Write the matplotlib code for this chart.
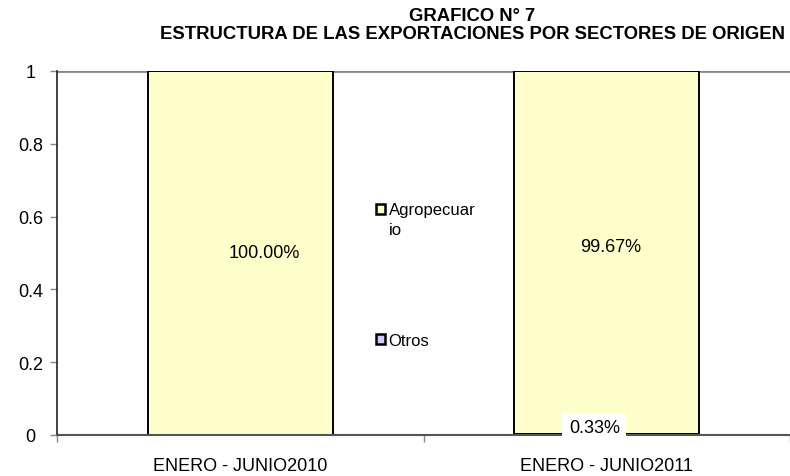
import numpy as np
import matplotlib
matplotlib.use("Agg")
import matplotlib.pyplot as plt
from matplotlib.patches import Patch, Rectangle
from matplotlib.legend_handler import HandlerPatch

plt.rcParams['font.family'] = ['Liberation Sans', 'DejaVu Sans']

periodos = ["ENERO - JUNIO2010", "ENERO - JUNIO2011"]
otros = [0.0, 0.0033]
agropecuario = [1.0, 0.9967]
etiquetas_agro = ["100.00%", "99.67%"]
etiquetas_otros = ["", "0.33%"]
yticks = [0, 0.2, 0.4, 0.6, 0.8, 1]

col_agro = "#FFFFCC"
col_otros = "#CCCCFF"

fig = plt.figure(figsize=(7.9, 4.77), dpi=100)
ax = fig.add_axes([57 / 790, 41 / 477, 733 / 790, 364 / 477])

x = np.arange(len(periodos))
w = 0.505
b1 = ax.bar(x, otros, w, color=col_otros, edgecolor="black", linewidth=1.4, zorder=2)
b2 = ax.bar(x, agropecuario, w, bottom=otros, color=col_agro, edgecolor="black",
            linewidth=1.4, zorder=2)

# data labels (excel places them a bit off-center)
offs_agro = [(17, 0), (3, 4)]
for i, r in enumerate(b2):
    yc = otros[i] + agropecuario[i] / 2
    ax.annotate(etiquetas_agro[i], (x[i], yc), xytext=offs_agro[i], textcoords="offset points",
                ha="center", va="center", fontsize=13, zorder=5)
for i, r in enumerate(b1):
    if etiquetas_otros[i]:
        ax.annotate(etiquetas_otros[i], (x[i], otros[i] / 2), xytext=(-9, 5),
                    textcoords="offset points", ha="center", va="center", fontsize=13,
                    zorder=6, bbox=dict(boxstyle="square,pad=0.35", fc="white", ec="none"))

ax.set_xlim(-0.5, 1.5)
ax.set_ylim(0, 1)
ax.set_yticks(yticks)
ax.set_yticklabels([f"{v:g}" for v in yticks], fontsize=13, ha="center")
ax.tick_params(axis="y", length=5, width=1, color="#888888", pad=14)

ax.set_xticks([-0.5, 0.5, 1.5])
ax.set_xticklabels([])
ax.tick_params(axis="x", which="major", length=5, width=1, color="#888888")
ax.set_xticks(x, minor=True)
ax.set_xticklabels(periodos, minor=True, fontsize=13)
ax.tick_params(axis="x", which="minor", length=0, pad=16)

ax.axhline(1, color="#888888", linewidth=2, zorder=1)
for s in ["top", "right"]:
    ax.spines[s].set_visible(False)
ax.spines["left"].set_color("#222222")
ax.spines["left"].set_linewidth(1.2)
ax.spines["bottom"].set_color("#555555")
ax.spines["bottom"].set_linewidth(1.5)


# handle drawn next to the first line of a wrapped label
def top_square(legend, orig_handle, xdescent, ydescent, width, height, fontsize):
    return Rectangle((-xdescent, -ydescent + 7.5), width, height)


# legend, two separate entries like the original
h1 = Patch(facecolor=col_agro, edgecolor="black", linewidth=1.8)
h2 = Patch(facecolor=col_otros, edgecolor="black", linewidth=1.8)
kw = dict(frameon=False, fontsize=12, handlelength=0.55, handleheight=0.55,
          handletextpad=0.2, borderpad=0, borderaxespad=0)
leg1 = ax.legend([h1], ["Agropecuar\nio"], loc="upper left",
                 bbox_to_anchor=((376 - 57) / 733, (436 - 203) / 364),
                 handler_map={Patch: HandlerPatch(patch_func=top_square)}, **kw)
leg1.get_texts()[0].set_linespacing(1.45)
ax.add_artist(leg1)
ax.legend([h2], ["Otros"], loc="center left",
          bbox_to_anchor=((376 - 57) / 733, (436 - 341) / 364), **kw)

fig.text(472 / 790, 1 - 8 / 477,
         "GRAFICO N° 7\nESTRUCTURA DE LAS EXPORTACIONES POR SECTORES DE ORIGEN",
         ha="center", va="top", fontsize=13.3, fontweight="bold", linespacing=1.05)

fig.savefig("out.png", dpi=100)
